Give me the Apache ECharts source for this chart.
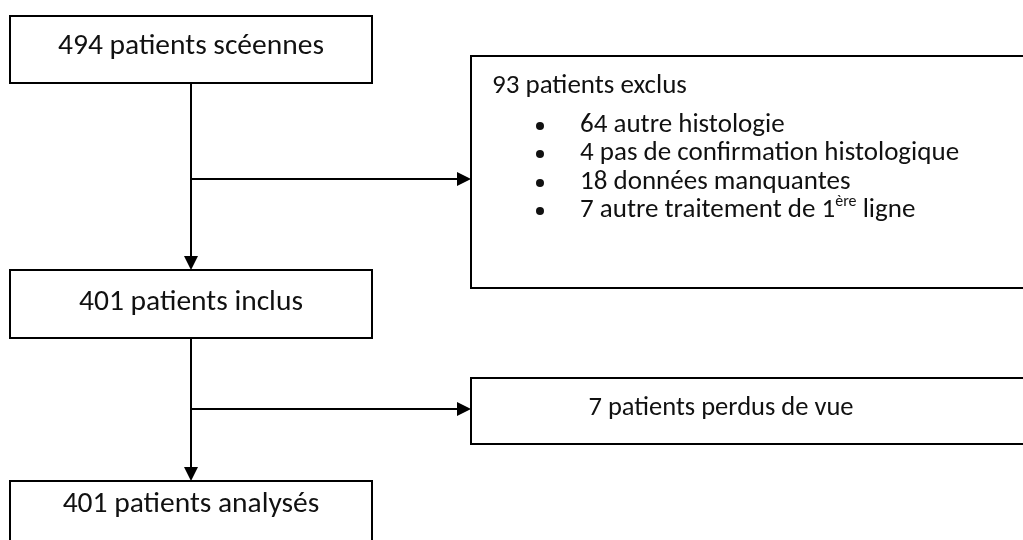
<!DOCTYPE html>
<html>
<head>
<meta charset="utf-8">
<script src="https://cdn.jsdelivr.net/npm/echarts@6/dist/echarts.min.js"></script>
<style>
  html, body { margin: 0; padding: 0; background: #fff; }
  #chart { width: 1023px; height: 540px; }
</style>
</head>
<body>
<div id="chart"></div>
<script>
// flow data
const stepCounts = [494, 401, 401]
const stepLabels = ['patients scéennes', 'patients inclus', 'patients analysés']
const excludedCount = 93
const excludedLabel = 'patients exclus'
const exclusionCounts = [64, 4, 18, 7]
const exclusionLabels = ['autre histologie', 'pas de confirmation histologique', 'données manquantes', 'autre traitement de 1|ère| ligne']
const lostCount = 7
const lostLabel = 'patients perdus de vue'

const FONT = 'Carlito, Calibri, "Open Sans", sans-serif'
const SIZE_MAIN = 29.5
const SIZE_SIDE = 27
const SIZE_LOST = 26.5
const LW = 2

// layout of the boxes (page pixels)
const stepBoxes = [
  { x: 10, y: 16, w: 362, h: 67 },
  { x: 10, y: 270, w: 362, h: 68 },
  { x: 10, y: 481, w: 362, h: 90 }
]
const sideBoxes = [
  { x: 471, y: 56, w: 580, h: 232 },
  { x: 471, y: 378, w: 580, h: 66 }
]
const trunkX = 191
const branchY = [179, 409]

const el = []

const box = (b) => ({
  type: 'rect',
  shape: { x: b.x, y: b.y, width: b.w, height: b.h },
  style: { fill: '#fff', stroke: '#000', lineWidth: LW }
})

const text = (str, x, y, size, align, extra) => ({
  type: 'text',
  z: 10,
  style: Object.assign({
    text: str, x, y,
    textAlign: align || 'center',
    textVerticalAlign: 'middle',
    fontFamily: FONT,
    fontSize: size,
    fill: '#111'
  }, extra || {})
})

const line = (pts) => ({
  type: 'polyline',
  shape: { points: pts },
  style: { stroke: '#000', lineWidth: LW, fill: null }
})

const arrowDown = (x, y) => ({
  type: 'polygon',
  shape: { points: [[x - 7, y - 14], [x + 7, y - 14], [x, y]] },
  style: { fill: '#000' }
})

const arrowRight = (x, y) => ({
  type: 'polygon',
  shape: { points: [[x - 14, y - 7], [x - 14, y + 7], [x, y]] },
  style: { fill: '#000' }
})

// connectors
for (let i = 0; i < 2; i++) {
  const from = stepBoxes[i], to = stepBoxes[i + 1]
  el.push(line([[trunkX, from.y + from.h], [trunkX, to.y - 12]]))
  el.push(arrowDown(trunkX, to.y))
  el.push(line([[trunkX, branchY[i]], [sideBoxes[i].x - 12, branchY[i]]]))
  el.push(arrowRight(sideBoxes[i].x, branchY[i]))
}

// boxes
stepBoxes.concat(sideBoxes).forEach(b => el.push(box(b)))

// step texts
const stepTextY = [47, 303, 505]
stepCounts.forEach((c, i) => {
  el.push(text(c + ' ' + stepLabels[i], trunkX, stepTextY[i], SIZE_MAIN))
})

// exclusion box
el.push(text(excludedCount + ' ' + excludedLabel, 492, 86, SIZE_SIDE, 'left'))
const bulletY = [125, 153, 182, 210]
exclusionCounts.forEach((c, i) => {
  el.push({
    type: 'circle',
    shape: { cx: 540, cy: bulletY[i] + 1, r: 4 },
    style: { fill: '#111' }
  })
  const parts = exclusionLabels[i].split('|')
  let str
  if (parts.length > 1) {
    str = '{n|' + c + ' ' + parts[0] + '}{s|' + parts[1] + '}{n|' + parts[2] + '}'
  } else {
    str = '{n|' + c + ' ' + parts[0] + '}'
  }
  el.push(text(str, 580, bulletY[i], SIZE_SIDE, 'left', {
    rich: {
      n: { fontFamily: FONT, fontSize: SIZE_SIDE, lineHeight: 32, fill: '#111' },
      s: { fontFamily: FONT, fontSize: 16, lineHeight: 32, verticalAlign: 'top', fill: '#111', padding: [0, 0, 12, 0] }
    }
  }))
})

// lost box
el.push(text(lostCount + ' ' + lostLabel, 721, 408, SIZE_LOST))

const chart = echarts.init(document.getElementById('chart'))
chart.setOption({
  animation: false,
  backgroundColor: '#fff',
  graphic: { elements: el }
})
</script>
</body>
</html>
